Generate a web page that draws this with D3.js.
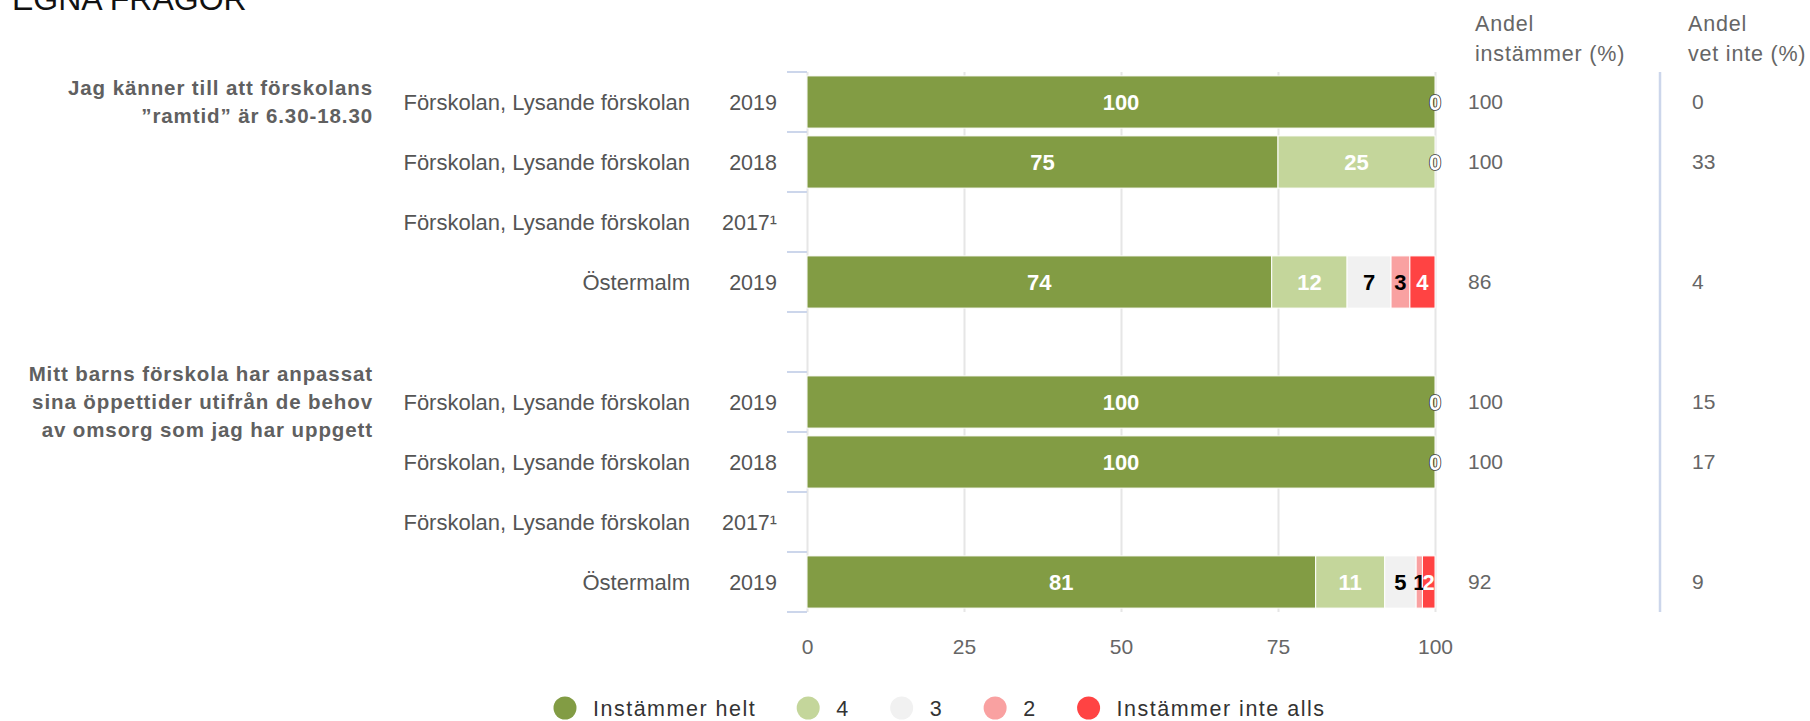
<!DOCTYPE html>
<html>
<head>
<meta charset="utf-8">
<script src="https://cdn.jsdelivr.net/npm/d3@7"></script>
<style>
  body { margin: 0; background: #fff; }
  svg { font-family: "Liberation Sans", Arial, sans-serif; display: block; }
</style>
</head>
<body>
<svg id="chart" width="1810" height="721"></svg>
<script>
// rows of the chart (one empty spacer row between the two questions)
const rowNames = ["Förskolan, Lysande förskolan", "Förskolan, Lysande förskolan", "Förskolan, Lysande förskolan", "Östermalm", "",
  "Förskolan, Lysande förskolan", "Förskolan, Lysande förskolan", "Förskolan, Lysande förskolan", "Östermalm"];
const rowYears = ["2019", "2018", "2017¹", "2019", "", "2019", "2018", "2017¹", "2019"];

const questionLines = [
  ["Jag känner till att förskolans", "”ramtid” är 6.30-18.30"],
  ["Mitt barns förskola har anpassat", "sina öppettider utifrån de behov", "av omsorg som jag har uppgett"]
];
const questionRows = [0, 5];

const seriesNames = ["Instämmer helt", "4", "3", "2", "Instämmer inte alls"];
const seriesColors = ["#829c44", "#c4d69b", "#f1f1f1", "#f9a1a1", "#ff4343"];
const labelColors = ["#ffffff", "#ffffff", "#000000", "#000000", "#ffffff"];

// values per series, one per row
const instammerHelt = [100, 75, null, 74, null, 100, 100, null, 81];
const varde4 = [0, 25, null, 12, null, 0, 0, null, 11];
const varde3 = [null, 0, null, 7, null, null, null, null, 5];
const varde2 = [null, null, null, 3, null, null, null, null, 1];
const instammerInteAlls = [null, null, null, 4, null, null, null, null, 2];

const andelInstammer = [100, 100, null, 86, null, 100, 100, null, 92];
const andelVetInte = [0, 33, null, 4, null, 15, 17, null, 9];

const xTicks = [0, 25, 50, 75, 100];

const seriesValues = [instammerHelt, varde4, varde3, varde2, instammerInteAlls];

const svg = d3.select("#chart");
const rowIds = rowNames.map((d, i) => i);

const plot = { left: 807, right: 1435, top: 72, bottom: 612 };

const x = d3.scaleLinear().domain([0, 100]).range([plot.left, plot.right]);
const yBand = d3.scaleBand().domain(rowIds).range([plot.top, plot.bottom]).padding(0);
const yBar = d3.scaleBand().domain(rowIds).range([plot.top, plot.bottom])
  .paddingInner(0.13).paddingOuter(0.065);

// title, cut at the top edge
svg.append("text")
  .attr("x", 12).attr("y", 10)
  .attr("font-size", 32).attr("fill", "#111")
  .text("EGNA FRÅGOR");

// grid lines
const grid = d3.axisBottom(x).tickValues(xTicks).tickSize(-(plot.bottom - plot.top)).tickFormat("");
svg.append("g")
  .attr("transform", `translate(0,${plot.bottom})`)
  .call(grid)
  .call(g => g.select(".domain").remove())
  .selectAll("line").attr("stroke", "#e6e6e6").attr("stroke-width", 2);

// x axis labels
const xAxis = d3.axisBottom(x).tickValues(xTicks).tickSize(0).tickPadding(0);
svg.append("g")
  .attr("transform", `translate(0,${plot.bottom + 42})`)
  .call(xAxis)
  .call(g => g.select(".domain").remove())
  .selectAll("text")
  .attr("font-family", "Liberation Sans, Arial, sans-serif")
  .attr("font-size", 21).attr("fill", "#666").attr("dy", 0);

// category tick marks on band boundaries
const boundaries = rowIds.map(d => yBand(d)).concat([plot.bottom]);
svg.append("g").selectAll("line")
  .data(boundaries)
  .enter().append("line")
  .attr("x1", plot.left - 20).attr("x2", plot.left)
  .attr("y1", d => d).attr("y2", d => d)
  .attr("stroke", "#ccd6eb").attr("stroke-width", 2);

// category labels: name + year
const catG = svg.append("g").attr("font-size", 22).attr("fill", "#555");
catG.selectAll(".name")
  .data(rowIds)
  .enter().append("text")
  .attr("class", "name")
  .attr("x", 690)
  .attr("y", d => yBand(d) + yBand.bandwidth() / 2)
  .attr("dy", "0.35em")
  .attr("text-anchor", "end")
  .text(d => rowNames[d]);
catG.selectAll(".year")
  .data(rowIds)
  .enter().append("text")
  .attr("class", "year")
  .attr("x", 777)
  .attr("y", d => yBand(d) + yBand.bandwidth() / 2)
  .attr("dy", "0.35em")
  .attr("text-anchor", "end")
  .attr("font-size", 21.5)
  .text(d => rowYears[d]);

// question labels
questionLines.forEach((lines, qi) => {
  const cy = yBand(questionRows[qi]) + yBand.bandwidth() / 2;
  const lh = 27.7;
  const t = svg.append("text")
    .attr("font-size", 20.5).attr("font-weight", "bold").attr("fill", "#606060")
    .attr("letter-spacing", 0.9)
    .attr("text-anchor", "end");
  lines.forEach((line, li) => {
    t.append("tspan")
      .attr("x", 373)
      .attr("y", cy + (li - (lines.length - 1) / 2) * lh)
      .attr("dy", "0.35em")
      .text(line);
  });
});

// stacked segments
const stacked = [];
rowIds.forEach(r => {
  let acc = 0;
  seriesValues.forEach((vals, si) => {
    const v = vals[r];
    if (v === null) return;
    stacked.push({ row: r, series: si, x0: acc, x1: acc + v, value: v });
    acc += v;
  });
});

svg.append("g").selectAll("rect")
  .data(stacked.filter(d => d.value > 0))
  .enter().append("rect")
  .attr("x", d => x(d.x0))
  .attr("y", d => yBar(d.row))
  .attr("width", d => x(d.x1) - x(d.x0))
  .attr("height", yBar.bandwidth())
  .attr("fill", d => seriesColors[d.series])
  .attr("stroke", "#fff").attr("stroke-width", 1);

// data labels (only the last zero of a row is shown)
const shownLabels = stacked.filter(d => d.value > 0 ||
  !stacked.some(o => o.row === d.row && o.series > d.series));
svg.append("g").selectAll("text")
  .data(shownLabels)
  .enter().append("text")
  .attr("x", d => x((d.x0 + d.x1) / 2))
  .attr("y", d => yBar(d.row) + yBar.bandwidth() / 2)
  .attr("dy", "0.36em")
  .attr("text-anchor", "middle")
  .attr("font-size", 22).attr("font-weight", "bold")
  .attr("fill", d => d.value === 0 ? "#fff" : labelColors[d.series])
  .attr("stroke", d => d.value === 0 ? "#333" : "none")
  .attr("stroke-width", 1.6)
  .style("paint-order", "stroke")
  .text(d => d.value);

// right columns
const colX = [1468, 1692];
const headX = [1475, 1688];
const headers = [["Andel", "instämmer (%)"], ["Andel", "vet inte (%)"]];
headers.forEach((lines, ci) => {
  const t = svg.append("text").attr("font-size", 21.5).attr("fill", "#666").attr("letter-spacing", 0.8);
  lines.forEach((line, li) => {
    t.append("tspan").attr("x", headX[ci]).attr("y", 31 + li * 30).text(line);
  });
});
[andelInstammer, andelVetInte].forEach((vals, ci) => {
  svg.append("g").selectAll("text")
    .data(rowIds.filter(r => vals[r] !== null))
    .enter().append("text")
    .attr("x", colX[ci])
    .attr("y", d => yBand(d) + yBand.bandwidth() / 2)
    .attr("dy", "0.35em")
    .attr("font-size", 21).attr("fill", "#666")
    .text(d => vals[d]);
});
svg.append("line")
  .attr("x1", 1660).attr("x2", 1660)
  .attr("y1", plot.top).attr("y2", plot.bottom)
  .attr("stroke", "#ccd6eb").attr("stroke-width", 2.5);

// legend
const legend = svg.append("g").attr("transform", "translate(0,708)");
let lx = 565;
seriesNames.forEach((name, i) => {
  legend.append("circle").attr("cx", lx).attr("cy", 0).attr("r", 11.5).attr("fill", seriesColors[i]);
  const t = legend.append("text")
    .attr("x", lx + 28).attr("y", 0).attr("dy", "0.35em")
    .attr("font-size", 21.5).attr("fill", "#333").attr("letter-spacing", 1.5)
    .text(name);
  lx += 28 + t.node().getComputedTextLength() + 52;
});
</script>
</body>
</html>
